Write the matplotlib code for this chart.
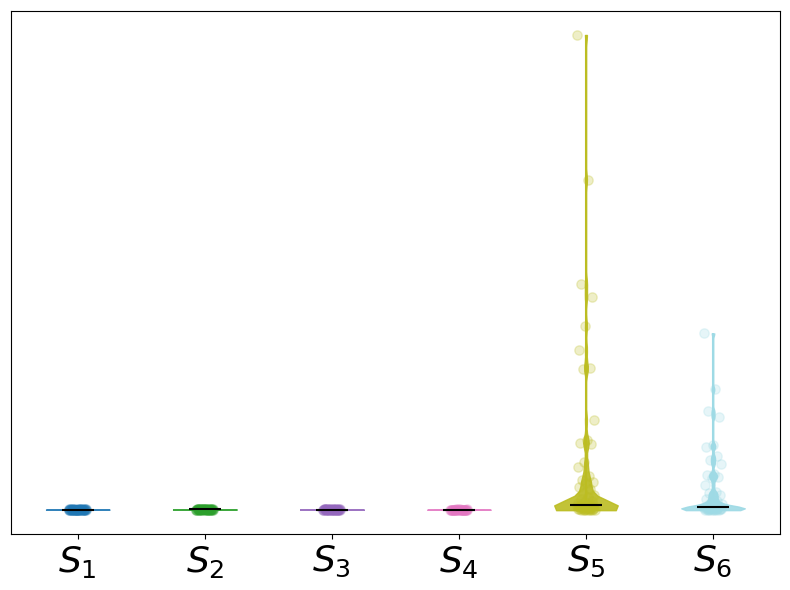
import numpy as np
import matplotlib
matplotlib.use("Agg")
import matplotlib.pyplot as plt

labels = ["$S_1$", "$S_2$", "$S_3$", "$S_4$", "$S_5$", "$S_6$"]

s1 = [0.02, 0.05, 0.08, 0.1, 0.12, 0.15, 0.18, 0.2, 0.22, 0.25, 0.1, 0.12, 0.14,
      0.16, 0.06, 0.09, 0.11, 0.13, 0.17, 0.19, 0.07, 0.1, 0.12, 0.15, 0.2,
      0.04, 0.08, 0.11, 0.14, 0.16, 0.21, 0.13, 0.09, 0.12, 0.1, 0.15, 0.18, 0.11, 0.14, 0.13]
s2 = [0.05, 0.08, 0.1, 0.12, 0.15, 0.18, 0.2, 0.22, 0.25, 0.28, 0.12, 0.14, 0.16,
      0.18, 0.09, 0.11, 0.13, 0.15, 0.17, 0.19, 0.1, 0.12, 0.14, 0.16, 0.21,
      0.07, 0.11, 0.13, 0.15, 0.18, 0.23, 0.14, 0.12, 0.16, 0.13, 0.17, 0.2, 0.15, 0.14, 0.16]
s3 = [0.03, 0.06, 0.09, 0.11, 0.14, 0.17, 0.19, 0.21, 0.24, 0.27, 0.11, 0.13, 0.15,
      0.17, 0.08, 0.1, 0.12, 0.14, 0.16, 0.18, 0.09, 0.11, 0.13, 0.15, 0.2,
      0.06, 0.1, 0.12, 0.14, 0.17, 0.22, 0.13, 0.11, 0.15, 0.12, 0.16, 0.19, 0.14, 0.13, 0.15]
s4 = [0.0, 0.03, 0.05, 0.07, 0.09, 0.11, 0.13, 0.15, 0.17, 0.2, 0.08, 0.1, 0.12,
      0.06, 0.09, 0.11, 0.13, 0.07, 0.1, 0.12, 0.14, 0.04, 0.08, 0.1, 0.12,
      0.15, 0.09, 0.11, 0.1, 0.13]
s5 = [100.0, 69.5, 47.7, 44.8, 38.7, 33.8, 30.0, 29.8, 18.9, 14.7, 14.1, 13.9,
      10.1, 9.0, 7.1, 6.3, 5.9, 5.7, 4.8, 4.4,
      3.6, 3.1, 2.7, 2.3, 2.0, 1.8, 1.6, 1.4, 1.25, 1.1,
      1.0, 0.95, 0.9, 0.85, 0.8, 0.75, 0.7, 0.65, 0.62, 0.58, 0.55, 0.5, 0.46,
      0.42, 0.38, 0.35, 0.32, 0.28, 0.25, 0.22, 0.2, 0.17, 0.15, 0.12, 0.1,
      0.08, 0.06, 0.04, 0.02, 0.0]
s6 = [37.2, 25.4, 20.8, 19.7, 13.7, 13.2, 11.3, 10.5, 9.7, 7.6, 7.5, 6.9, 6.7,
      5.3, 3.8, 3.6,
      3.2, 2.8, 2.4, 2.0, 1.7, 1.4, 1.2, 1.0, 0.8,
      0.66, 0.62, 0.58, 0.55, 0.52, 0.48, 0.45, 0.42, 0.39, 0.36, 0.33, 0.3,
      0.27, 0.24, 0.21, 0.19, 0.17, 0.15, 0.13, 0.11, 0.09, 0.07, 0.05, 0.03, 0.01]

data = [s1, s2, s3, s4, s5, s6]
colors = plt.cm.tab20(np.linspace(0, 1, len(data)))
positions = np.arange(1, len(data) + 1)

fig, ax = plt.subplots(figsize=(7.9, 5.9), dpi=100)

parts = ax.violinplot(data, positions=positions, showmedians=True,
                      showextrema=True, bw_method=0.07)
for body, c in zip(parts["bodies"], colors):
    body.set_facecolor(c)
    body.set_edgecolor(c)
    body.set_alpha(0.9)
parts["cbars"].set_color(colors)
parts["cmins"].set_visible(False)
parts["cmaxes"].set_visible(False)
parts["cmedians"].set_color("black")

# spread the dots sideways a bit so they don't sit on one line
for pos, vals, c in zip(positions, data, colors):
    k = np.arange(len(vals))
    xs = pos + ((k * 0.618) % 1 - 0.5) * 0.14
    ax.scatter(xs, vals, s=45, color=c, alpha=0.25)

ax.set_xticks(positions)
ax.set_xticklabels(labels, fontsize=26)
ax.set_yticks([])

plt.subplots_adjust(left=0.014, right=0.987, top=0.981, bottom=0.095)
plt.savefig("out.png", dpi=100)
